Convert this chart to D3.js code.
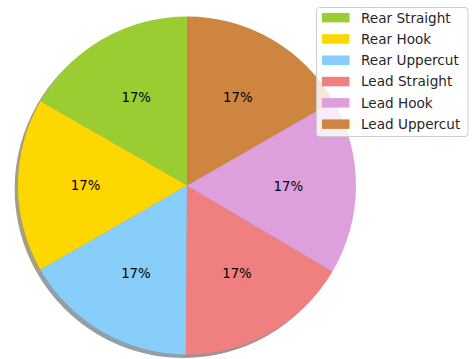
<!DOCTYPE html>
<html><head><meta charset="utf-8">
<script src="https://cdn.jsdelivr.net/npm/d3@7"></script>
<style>body{margin:0;background:#fff;} svg{display:block;}</style>
</head><body>
<svg id="c" width="472" height="359"></svg>
<script>
const categories = ["Rear Straight","Rear Hook","Rear Uppercut","Lead Straight","Lead Hook","Lead Uppercut"];
const values = [16.7, 16.6, 16.6, 16.6, 16.8, 16.7];
const colors = ["#9acd32","#ffd700","#87cefa","#f08080","#dda0dd","#cd853f"];

const svg = d3.select("#c");
const cx = 187, cy = 185.5, r = 169;
const font = "'DejaVu Sans', sans-serif";

const pie = d3.pie().sort(null).value(d => d).startAngle(0).endAngle(-2*Math.PI);
const arcs = pie(values);
const arc = d3.arc().innerRadius(0).outerRadius(r);
const total = d3.sum(values);

const g = svg.append("g").attr("transform", `translate(${cx},${cy})`);
// shadow
const sh = g.append("g").attr("transform", `translate(${-0.02*r},${0.02*r})`);
sh.selectAll("path").data(arcs).join("path")
  .attr("d", arc)
  .attr("fill", (d,i) => { const c = d3.rgb(colors[i]); return d3.rgb(c.r*0.3, c.g*0.3, c.b*0.3).toString(); })
  .attr("fill-opacity", 0.5);
g.selectAll("path.w").data(arcs).join("path").attr("class","w")
  .attr("d", arc)
  .attr("fill", (d,i) => colors[i]);

const labelArc = d3.arc().innerRadius(0.6*r).outerRadius(0.6*r);
g.selectAll("text").data(arcs).join("text")
  .attr("transform", d => `translate(${labelArc.centroid(d)})`)
  .attr("text-anchor","middle").attr("dominant-baseline","central")
  .attr("font-family", font).attr("font-size","13.3px").attr("fill","#000")
  .text(d => Math.round(d.value/total*100) + "%");

// legend
const lx = 316.5, ly = 7.5, lw = 151.5, lh = 129, rowH = 21.3;
const lg = svg.append("g");
lg.append("rect").attr("x",lx).attr("y",ly).attr("width",lw).attr("height",lh)
  .attr("rx",3).attr("fill","#fff").attr("fill-opacity",0.8)
  .attr("stroke","#cccccc").attr("stroke-width",1);
categories.forEach((c,i) => {
  const yc = 17.5 + i*rowH;
  lg.append("rect").attr("x",322).attr("y",yc-4.6).attr("width",27.5).attr("height",9.5).attr("fill",colors[i]);
  lg.append("text").attr("x",361).attr("y",yc).attr("dominant-baseline","central")
    .attr("font-family",font).attr("font-size","13.6px").attr("fill","#262626").text(c);
});
</script>
</body></html>
